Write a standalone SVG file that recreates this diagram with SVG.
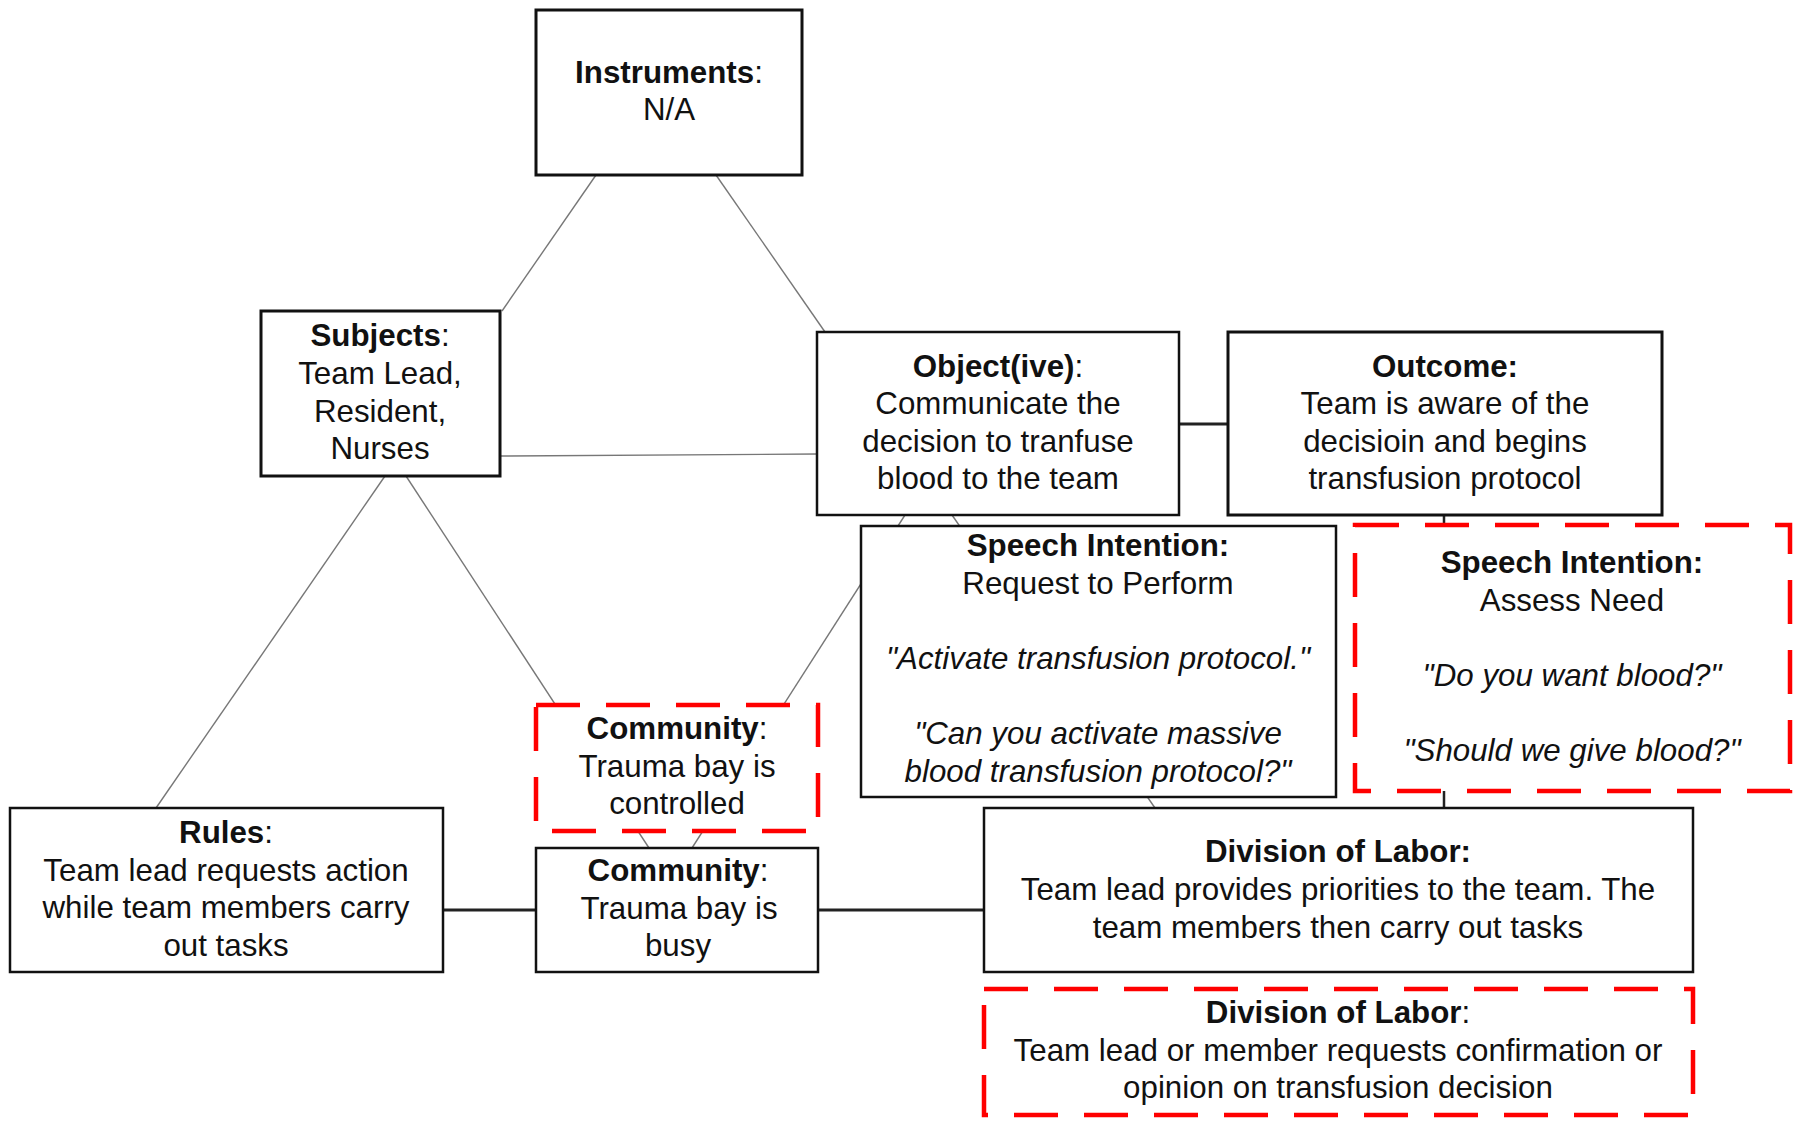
<svg xmlns="http://www.w3.org/2000/svg" width="1800" height="1127" viewBox="0 0 1800 1127">
<style>
.box{fill:#fff;stroke:#111;stroke-width:3}
.dash{fill:#fff;stroke:#f00;stroke-width:4.5;stroke-dasharray:44 26}
.thin{stroke:#777;stroke-width:1.4;fill:none}
.thick{stroke:#222;stroke-width:3;fill:none}
text{font-family:"Liberation Sans",Arial,sans-serif;font-size:31.3px;fill:#111;text-anchor:middle}
.b{font-weight:bold}
.i{font-style:italic}
</style>
<rect width="1800" height="1127" fill="#fff"/>
<g id="connectors">
<line class="thin" x1="596" y1="175" x2="502" y2="311"/>
<line class="thin" x1="716" y1="175" x2="825" y2="332"/>
<line class="thin" x1="500" y1="456" x2="817" y2="454"/>
<line class="thin" x1="385" y1="476" x2="156" y2="808"/>
<line class="thin" x1="406" y1="476" x2="649" y2="848"/>
<line class="thin" x1="905" y1="515" x2="692" y2="848"/>
<line class="thin" x1="952" y1="515" x2="1155" y2="808"/>
<line class="thick" x1="1179" y1="424" x2="1228" y2="424"/>
<line class="thick" x1="1444" y1="515" x2="1444" y2="808" style="stroke-width:2.5"/>
<line class="thick" x1="443" y1="910" x2="536" y2="910"/>
<line class="thick" x1="818" y1="910" x2="984" y2="910"/>
</g>
<g id="instruments">
<rect class="box" x="536" y="10" width="266" height="165"/>
<text x="669" y="83"><tspan class="b">Instruments</tspan>:</text>
<text x="669" y="120">N/A</text>
</g>
<g id="subjects">
<rect class="box" x="261" y="311" width="239" height="165"/>
<text x="380" y="346"><tspan class="b">Subjects</tspan>:</text>
<text x="380" y="384">Team Lead,</text>
<text x="380" y="422">Resident,</text>
<text x="380" y="459">Nurses</text>
</g>
<g id="objective">
<rect class="box" x="817" y="332" width="362" height="183" style="stroke-width:2.5"/>
<text x="998" y="377"><tspan class="b">Object(ive)</tspan>:</text>
<text x="998" y="414">Communicate the</text>
<text x="998" y="452">decision to tranfuse</text>
<text x="998" y="489">blood to the team</text>
</g>
<g id="outcome">
<rect class="box" x="1228" y="332" width="434" height="183"/>
<text x="1445" y="377" class="b">Outcome:</text>
<text x="1445" y="414">Team is aware of the</text>
<text x="1445" y="452">decisioin and begins</text>
<text x="1445" y="489">transfusion protocol</text>
</g>
<g id="speech-intention-request">
<rect class="box" x="861" y="526" width="475" height="271" style="stroke-width:2.5"/>
<text x="1098" y="556" class="b">Speech Intention:</text>
<text x="1098" y="594">Request to Perform</text>
<text x="1098" y="669" class="i">"Activate transfusion protocol."</text>
<text x="1098" y="744" class="i">"Can you activate massive</text>
<text x="1098" y="782" class="i">blood transfusion protocol?"</text>
</g>
<g id="speech-intention-assess">
<rect class="dash" x="1355" y="525" width="435" height="266"/>
<text x="1572" y="573" class="b">Speech Intention:</text>
<text x="1572" y="611">Assess Need</text>
<text x="1572" y="686" class="i">"Do you want blood?"</text>
<text x="1572" y="761" class="i">"Should we give blood?"</text>
</g>
<g id="community-controlled">
<rect class="dash" x="536" y="705" width="282" height="126"/>
<text x="677" y="739"><tspan class="b">Community</tspan>:</text>
<text x="677" y="777">Trauma bay is</text>
<text x="677" y="814">controlled</text>
</g>
<g id="rules">
<rect class="box" x="10" y="808" width="433" height="164" style="stroke-width:2.5"/>
<text x="226" y="843"><tspan class="b">Rules</tspan>:</text>
<text x="226" y="881">Team lead requests action</text>
<text x="226" y="918">while team members carry</text>
<text x="226" y="956">out tasks</text>
</g>
<g id="community-busy">
<rect class="box" x="536" y="848" width="282" height="124" style="stroke-width:2.5"/>
<text x="678" y="881"><tspan class="b">Community</tspan>:</text>
<text x="679" y="919">Trauma bay is</text>
<text x="678" y="956">busy</text>
</g>
<g id="division-of-labor">
<rect class="box" x="984" y="808" width="709" height="164" style="stroke-width:2.5"/>
<text x="1338" y="862" class="b">Division of Labor:</text>
<text x="1338" y="900">Team lead provides priorities to the team. The</text>
<text x="1338" y="938">team members then carry out tasks</text>
</g>
<g id="division-of-labor-confirm">
<rect class="dash" x="984" y="989" width="709" height="126"/>
<text x="1338" y="1023"><tspan class="b">Division of Labor</tspan>:</text>
<text x="1338" y="1061">Team lead or member requests confirmation or</text>
<text x="1338" y="1098">opinion on transfusion decision</text>
</g>
</svg>
